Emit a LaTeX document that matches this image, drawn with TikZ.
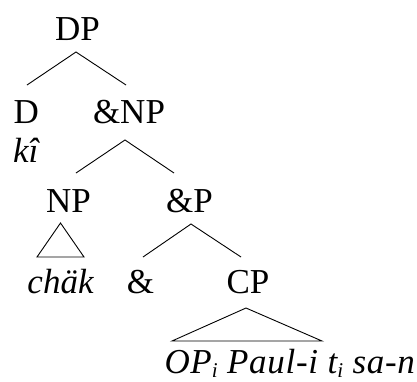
\documentclass[tikz,border=0pt]{standalone}
\usepackage{fontspec}
\setmainfont{Liberation Serif}
\newcommand{\lowsub}[1]{\raisebox{-4pt}{\fontsize{21}{21}\selectfont #1}}
\begin{document}
\begin{tikzpicture}[x=1pt,y=-1pt,
  lab/.style={inner sep=0pt,outer sep=0pt,font=\fontsize{35}{42}\selectfont},
  edge/.style={line width=0.9pt,line join=miter}]
\useasboundingbox (0,0) rectangle (417,381);
% nodes
\node[lab,anchor=base] (DP) at (77.5,40) {DP};
\node[lab,anchor=base west] (D) at (13.5,123) {D};
\node[lab,anchor=base] (andNP) at (129,123) {\&NP};
\node[lab,anchor=base west] (ki) at (13,162) {\itshape kî};
\node[lab,anchor=base] (NP) at (68.5,212) {NP};
\node[lab,anchor=base] (andP) at (189.5,212) {\&P};
\node[lab,anchor=base] (chak) at (60.5,293) {\itshape chäk};
\node[lab,anchor=base] (amp) at (140.5,293) {\&};
\node[lab,anchor=base] (CP) at (248,293) {CP};
\node[lab,anchor=base east] (cpt) at (415,373) {\itshape\addfontfeature{LetterSpace=2}OP\lowsub{i} Paul-i t\lowsub{i} sa-n};
% connector end points
\coordinate (dpA) at (76,52);
\coordinate (dL) at (27,85);
\coordinate (dR) at (126,85);
\coordinate (nA) at (125,140);
\coordinate (nL) at (76,173);
\coordinate (nR) at (174,173);
\coordinate (npA) at (60.5,223);
\coordinate (npL) at (37,257);
\coordinate (npR) at (84,257);
\coordinate (pA) at (191,224);
\coordinate (pL) at (143,257);
\coordinate (pR) at (241,257);
\coordinate (cA) at (246,308);
\coordinate (cL) at (172,341);
\coordinate (cR) at (322,341);
% connectors
\draw[edge] (dL) -- (dpA) -- (dR);
\draw[edge] (nL) -- (nA) -- (nR);
\draw[edge] (npA) -- (npL) -- (npR) -- cycle;
\draw[edge] (pL) -- (pA) -- (pR);
\draw[edge] (cA) -- (cL) -- (cR) -- cycle;
\end{tikzpicture}
\end{document}
